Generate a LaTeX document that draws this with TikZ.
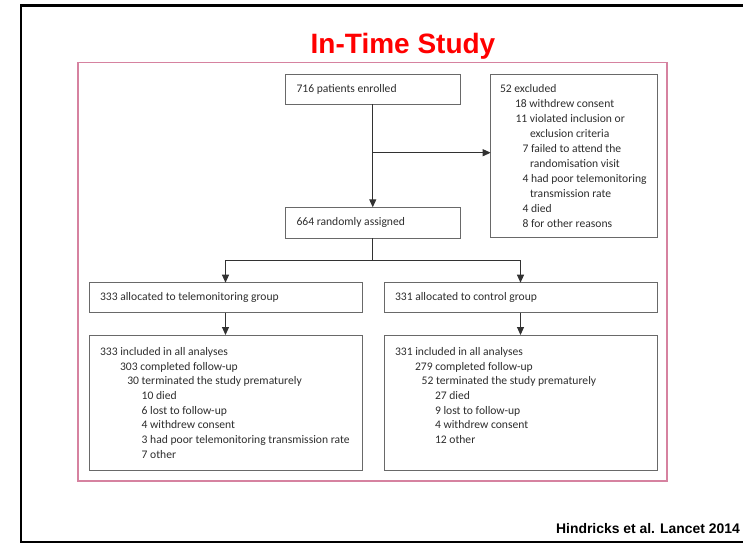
\documentclass[tikz,border=0pt]{standalone}
\usepackage{fontspec}
\setmainfont{Carlito}
\newfontfamily\arialfont{Liberation Sans}
\usetikzlibrary{arrows.meta}
\definecolor{framepink}{RGB}{214,130,160}
\definecolor{boxgrey}{RGB}{105,105,105}
\definecolor{linegrey}{RGB}{50,50,50}
\definecolor{txtgrey}{RGB}{45,45,45}
\begin{document}
\begin{tikzpicture}[x=1pt,y=-1pt,
  box/.style={draw=boxgrey,line width=1pt,inner ysep=0pt,inner xsep=11pt,outer sep=0pt,
    anchor=north west,text=txtgrey,font=\fontsize{11.6}{14.7}\selectfont},
  txt/.style={anchor=base west,inner sep=0pt,outer sep=0pt,text=txtgrey,font=\fontsize{11.6}{14.7}\selectfont},
  conn/.style={draw=linegrey,line width=1pt},
  arr/.style={conn,-{Triangle[length=8pt,width=7pt]}}]
\useasboundingbox (0,0) rectangle (743,547);
% outer black frame
\draw[black,line width=2.6pt] (745,5.3) -- (21,5.3) -- (21,542) -- (745,542);
% title
\node[anchor=base,inner sep=0pt,text=red,font=\arialfont\bfseries\fontsize{28}{32}\selectfont] (title) at (403,53.3) {In-Time Study};
% pink frame
\draw[framepink,line width=1.5pt] (78,62.7) rectangle (667,481);
% boxes
\node[box,minimum width=174.5pt,minimum height=30.3pt] (enr) at (285.5,74) {\makebox[152.5pt][l]{716 patients enrolled}};
\node[box,minimum width=166.3pt,minimum height=162.5pt] (excl) at (490.7,74.7) {};
\node[box,minimum width=174.5pt,minimum height=31pt] (rand) at (285.5,207.3) {\makebox[152.5pt][l]{664 randomly assigned}};
\node[box,minimum width=273pt,minimum height=30pt] (tele) at (89,282.7) {\makebox[251pt][l]{333 allocated to telemonitoring group}};
\node[box,minimum width=273pt,minimum height=30pt] (ctrl) at (384,282.7) {\makebox[251pt][l]{331 allocated to control group}};
\node[box,minimum width=273pt,minimum height=135pt] (telea) at (89,335) {};
\node[box,minimum width=273pt,minimum height=135pt] (ctrla) at (384,335) {};
% excluded text
\node[txt] (x0) at (500,92) {52 excluded};
\node[txt] (x1) at (515,107) {18 withdrew consent};
\node[txt] (x2) at (515.5,122) {11 violated inclusion or};
\node[txt] (x3) at (530,137) {exclusion criteria};
\node[txt] (x4) at (522.5,152) {7 failed to attend the};
\node[txt] (x5) at (530,167) {randomisation visit};
\node[txt] (x6) at (522.5,182) {4 had poor telemonitoring};
\node[txt] (x7) at (530,197) {transmission rate};
\node[txt] (x8) at (522.5,212) {4 died};
\node[txt] (x9) at (522.5,227) {8 for other reasons};
% telemonitoring analyses text
\node[txt] (t0) at (100,355.4) {333 included in all analyses};
\node[txt] (t1) at (120,370.1) {303 completed follow-up};
\node[txt] (t2) at (127.3,384.8) {30 terminated the study prematurely};
\node[txt] (t3) at (141.7,399.5) {10 died};
\node[txt] (t4) at (141.7,414.2) {6 lost to follow-up};
\node[txt] (t5) at (141.7,428.9) {4 withdrew consent};
\node[txt] (t6) at (141.7,443.6) {3 had poor telemonitoring transmission rate};
\node[txt] (t7) at (141.7,458.3) {7 other};
% control analyses text
\node[txt] (c0) at (395,355.4) {331 included in all analyses};
\node[txt] (c1) at (415,370.1) {279 completed follow-up};
\node[txt] (c2) at (421.7,384.8) {52 terminated the study prematurely};
\node[txt] (c3) at (435,399.5) {27 died};
\node[txt] (c4) at (435,414.2) {9 lost to follow-up};
\node[txt] (c5) at (435,428.9) {4 withdrew consent};
\node[txt] (c6) at (435,443.6) {12 other};
% connectors
\coordinate (split) at (372.75,152.7);
\coordinate (lvl) at (0,260);
\draw[arr] (enr.south) -- (rand.north);
\draw[arr] (split) -- (split -| excl.west);
\draw[conn] (rand.south) -- (rand.south |- lvl);
\draw[arr] (rand.south |- lvl) -| (tele.north);
\draw[arr] (rand.south |- lvl) -| (ctrl.north);
\draw[arr] (tele.south) -- (telea.north);
\draw[arr] (ctrl.south) -- (ctrla.north);
% citation
\node[anchor=base east,inner sep=0pt,font=\arialfont\bfseries\fontsize{13.9}{16}\selectfont] (cite) at (740,533.5) {Hindricks et al. Lancet 2014};
\end{tikzpicture}
\end{document}
